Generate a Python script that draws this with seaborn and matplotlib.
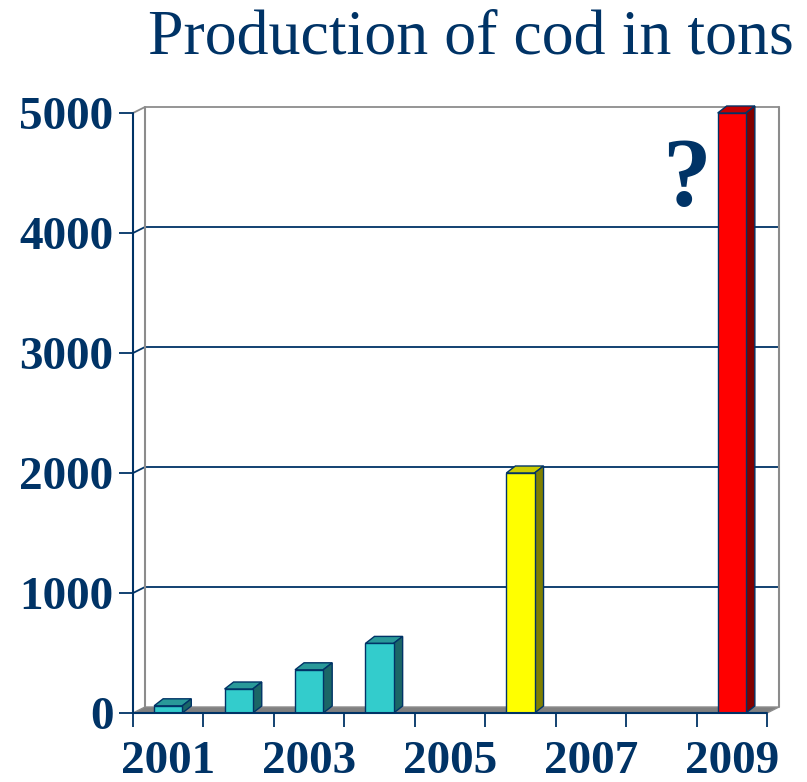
import numpy as np
import pandas as pd
import seaborn as sns
import matplotlib as mpl
mpl.use('Agg')
import matplotlib.pyplot as plt
from matplotlib.patches import Polygon

# data
years = ['2001', '2002', '2003', '2004', '2005', '2006', '2007', '2008', '2009']
tons = [60, 200, 360, 580, 0, 2000, 0, 0, 5000]
face_colors = ['#33CCCC', '#33CCCC', '#33CCCC', '#33CCCC', '#33CCCC', '#FFFF00', '#33CCCC', '#33CCCC', '#FF0000']
top_colors = ['#299999', '#299999', '#299999', '#299999', '#299999', '#CCCC00', '#299999', '#299999', '#C00000']
side_colors = ['#1B6666', '#1B6666', '#1B6666', '#1B6666', '#1B6666', '#808000', '#1B6666', '#1B6666', '#800000']
y_ticks = [0, 1000, 2000, 3000, 4000, 5000]
x_labels = ['2001', '', '2003', '', '2005', '', '2007', '', '2009']
title = 'Production of cod in tons'

navy = '#003366'
sns.set_style('white')
plt.rcParams['font.family'] = ['Liberation Serif', 'DejaVu Serif']
plt.rcParams['font.weight'] = 'bold'

df = pd.DataFrame({'year': years, 'tons': tons})

fig = plt.figure(figsize=(8.07, 7.82), dpi=100)
W, H = 807., 782.
ax = fig.add_axes([133/W, 69/H, 634/W, 600/H])

sns.barplot(data=df, x='year', y='tons', hue='year', palette=face_colors, legend=False,
            width=0.4, saturation=1, edgecolor=navy, linewidth=1, ax=ax, zorder=3)
ax.set_xlim(-0.5, 8.5)
ax.set_ylim(0, 5000)

# depth offsets (pixels -> data units)
xu = 634/9.
yu = 600/5000.
bdx, bdy = 9/xu, 7/yu       # bar depth
wdx, wdy = 12/xu, 6/yu      # wall depth

# 3d sides and tops of the bars
for i, cont in enumerate(ax.containers):
    for bar in cont:
        h = bar.get_height()
        if h <= 0:
            continue
        x0 = bar.get_x()
        x1 = x0 + bar.get_width()
        top = Polygon([(x0, h), (x1, h), (x1+bdx, h+bdy), (x0+bdx, h+bdy)], closed=True,
                      facecolor=top_colors[i], edgecolor=navy, lw=1, clip_on=False, zorder=2.5)
        side = Polygon([(x1, 0), (x1, h), (x1+bdx, h+bdy), (x1+bdx, bdy)], closed=True,
                       facecolor=side_colors[i], edgecolor=navy, lw=1, clip_on=False, zorder=2.5)
        ax.add_patch(top)
        ax.add_patch(side)

# back wall, gridlines and floor
for v in y_ticks[1:]:
    c = '#8C8C8C' if v == y_ticks[-1] else navy
    ax.plot([-0.5, -0.5+wdx, 8.5+wdx], [v, v+wdy, v+wdy], color=c, lw=1.3, clip_on=False, zorder=1)
ax.plot([-0.5+wdx, -0.5+wdx], [wdy, 5000+wdy], color='#8C8C8C', lw=1.5, clip_on=False, zorder=1)
ax.plot([8.5+wdx, 8.5+wdx], [wdy, 5000+wdy], color='#8C8C8C', lw=1.5, clip_on=False, zorder=1)
floor = Polygon([(-0.5, 0), (8.5, 0), (8.5+wdx, wdy), (-0.5+wdx, wdy)], closed=True,
                facecolor='#808080', edgecolor='#8C8C8C', lw=1, clip_on=False, zorder=1.2)
ax.add_patch(floor)
ax.plot([-0.5, -0.5], [0, 5000], color=navy, lw=1.5, clip_on=False, zorder=4)
ax.plot([-0.5, 8.5], [0, 0], color=navy, lw=1.5, clip_on=False, zorder=4)

for s in ax.spines.values():
    s.set_visible(False)
ax.grid(False)

# ticks
ax.set_yticks(y_ticks)
ax.set_yticklabels([str(v) for v in y_ticks])
ax.tick_params(axis='y', left=True, direction='out', length=10, width=1.3, color=navy,
               pad=4, labelsize=34, labelcolor=navy)
ax.set_xticks(np.arange(-0.5, 9, 1))
ax.set_xticklabels([])
ax.set_xticks(range(9), minor=True)
ax.set_xticklabels(x_labels, minor=True)
ax.tick_params(axis='x', which='major', bottom=True, direction='out', length=10, width=1.3, color=navy)
ax.tick_params(axis='x', which='minor', bottom=True, length=0, pad=20, labelsize=34, labelcolor=navy)
ax.set_xlabel('')
ax.set_ylabel('')

ax.text(7.35, 4230, '?', fontsize=70, fontweight='bold', color=navy, ha='center', va='baseline')
fig.text(471/W, 1 - 54/H, title, ha='center', va='baseline', fontsize=46,
         fontweight='normal', color=navy)

plt.savefig('out.png', dpi=100)
